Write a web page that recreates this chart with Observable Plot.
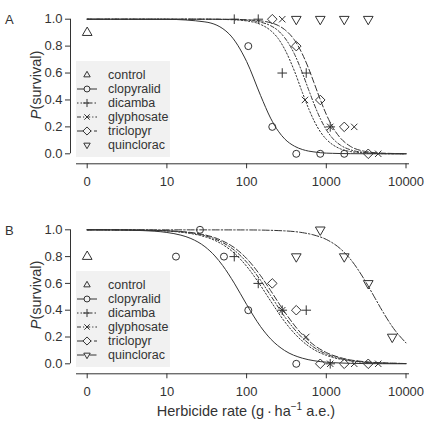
<!DOCTYPE html>
<html><head><meta charset="utf-8">
<script src="https://cdn.jsdelivr.net/npm/d3@7"></script>
<script src="https://cdn.jsdelivr.net/npm/@observablehq/plot@0.6"></script>
<style>
body{margin:0;background:#fff;}
#wrap{width:425px;height:422px;position:relative;overflow:hidden;}
svg{display:block;}
</style></head><body><div id="wrap"></div>
<script>
// ---------- categories & ticks ----------
const herbicides = ["control","clopyralid","dicamba","glyphosate","triclopyr","quinclorac"];
const xTicks = [1, 10, 100, 1000, 10000];
const xTickLabels = ["0", "10", "100", "1000", "10000"];
const yTicks = [0, 0.2, 0.4, 0.6, 0.8, 1.0];

// ---------- panel A observed survival ----------
const aCtrlRate = [0],                          aCtrlP = [0.9];
const aClopyRate = [105, 210, 420, 840, 1680],  aClopyP = [0.8, 0.2, 0, 0, 0];
const aDicRate = [70, 140, 280, 560, 1120],     aDicP = [1, 1, 0.6, 0.6, 0.2];
const aGlyRate = [280, 540, 1120, 2240, 4480],  aGlyP = [1, 0.4, 0.2, 0.2, 0];
const aTriRate = [210, 420, 840, 1680, 3360],   aTriP = [1, 0.8, 0.4, 0.2, 0];
const aQuinRate = [420, 840, 1680, 3360],       aQuinP = [1, 1, 1, 1];

// ---------- panel A fitted curves ----------
const gridA = [1, 10, 30, 60, 100, 150, 200, 250, 300, 400, 500, 600, 700, 850, 1000, 1200, 1500, 2000, 3000, 5000, 10000];
const aClopyFit = [1, 0.999, 0.98, 0.892, 0.686, 0.432, 0.265, 0.168, 0.111, 0.056, 0.032, 0.02, 0.014, 0.008, 0.005, 0.0034, 0.0019, 0.0009, 0.0003, 0.0001, 0];
const aDicFit   = [1, 1, 1, 0.997, 0.987, 0.961, 0.916, 0.855, 0.778, 0.612, 0.457, 0.336, 0.247, 0.16, 0.108, 0.068, 0.037, 0.017, 0.006, 0.001, 0];
const aGlyFit   = [1, 1, 1, 0.998, 0.993, 0.978, 0.952, 0.914, 0.863, 0.739, 0.602, 0.476, 0.372, 0.256, 0.179, 0.115, 0.065, 0.03, 0.01, 0.002, 0];
const aTriFit   = [1, 1, 1, 0.999, 0.996, 0.988, 0.974, 0.953, 0.923, 0.844, 0.742, 0.634, 0.529, 0.395, 0.293, 0.199, 0.118, 0.056, 0.019, 0.005, 0.001];

// ---------- panel B observed survival ----------
const bCtrlRate = [0],                          bCtrlP = [0.8];
const bClopyRate = [13, 26, 52, 105, 420],      bClopyP = [0.8, 1, 0.8, 0.4, 0];
const bDicRate = [70, 140, 280, 560, 1120],     bDicP = [0.8, 0.6, 0.4, 0.4, 0];
const bGlyRate = [280, 560, 1120, 2240, 4480],  bGlyP = [0.4, 0.2, 0, 0, 0];
const bTriRate = [210, 420, 840, 1680, 3360],   bTriP = [0.6, 0.4, 0, 0, 0];
const bQuinRate = [420, 840, 1680, 3360, 6720], bQuinP = [0.8, 1, 0.8, 0.6, 0.2];

// ---------- panel B fitted curves ----------
const gridB = [1, 3, 5, 10, 15, 20, 30, 40, 50, 70, 100, 150, 200, 300, 500, 700, 1000, 1500, 2000, 3000, 5000, 10000];
const bClopyFit = [1, 0.998, 0.994, 0.98, 0.96, 0.935, 0.874, 0.805, 0.734, 0.602, 0.443, 0.277, 0.186, 0.099, 0.042, 0.023, 0.012, 0.006, 0.0036, 0.0017, 0.0007, 0.0002];
const bDicFit   = [1, 0.999, 0.997, 0.991, 0.982, 0.972, 0.948, 0.921, 0.89, 0.826, 0.728, 0.583, 0.469, 0.315, 0.169, 0.106, 0.063, 0.034, 0.022, 0.011, 0.005, 0.002];
const bGlyFit   = [1, 0.999, 0.997, 0.992, 0.985, 0.976, 0.956, 0.932, 0.905, 0.848, 0.759, 0.622, 0.51, 0.352, 0.194, 0.123, 0.073, 0.04, 0.025, 0.013, 0.006, 0.002];
const bTriFit   = [1, 0.999, 0.998, 0.993, 0.987, 0.98, 0.962, 0.941, 0.917, 0.867, 0.786, 0.657, 0.547, 0.387, 0.218, 0.14, 0.084, 0.046, 0.029, 0.016, 0.007, 0.002];
const gridQ = [1, 100, 300, 500, 700, 1000, 1500, 2000, 3000, 4000, 5000, 7000, 10000];
const bQuinFit  = [1, 0.999, 0.992, 0.979, 0.961, 0.928, 0.859, 0.782, 0.629, 0.5, 0.399, 0.263, 0.156];

// ---------- styling ----------
const ink = "#333";
const font = '"Liberation Sans", Arial, Helvetica, sans-serif';
const symbolOf = {control:"triangle", clopyralid:"circle", dicamba:"plus", glyphosate:"times", triclopyr:"diamond2", quinclorac:"triangle"};
const d3SymbolOf = {control:d3.symbolTriangle2, clopyralid:d3.symbolCircle, dicamba:d3.symbolPlus, glyphosate:d3.symbolTimes, triclopyr:d3.symbolDiamond2, quinclorac:d3.symbolTriangle2};
const rotOf = {control:0, clopyralid:0, dicamba:0, glyphosate:0, triclopyr:0, quinclorac:180};
const rOf = {control:3.6, clopyralid:3.5, dicamba:3.2, glyphosate:3.0, triclopyr:4.3, quinclorac:3.6};
const dashOf = {clopyralid:null, dicamba:"1.5,2", glyphosate:"4,2,1.2,2", triclopyr:"6,2.5", quinclorac:"7,2,1.5,2"};

const pos = r => Math.max(r, 1); // rate 0 sits at the "0" tick

function zipPts(name, rates, ps) { return rates.map((r, i) => ({name, x: pos(r), p: ps[i]})); }
function zipFit(grid, ps) { return grid.map((x, i) => ({x, p: ps[i]})); }

function buildPanel(cfg) {
  const {h, top, bottom, pts, fits, letter, legendTop, legendLines, yTitleY, xTitle} = cfg;
  const y0 = h - bottom - 10;
  const marks = [
    Plot.ruleY([0], {dy: 10, stroke: ink, strokeWidth: 1}),
    Plot.ruleX([1], {y1: 0, y2: 1, dx: -16.7, stroke: ink, strokeWidth: 1}),
    Plot.axisY({ticks: yTicks, tickFormat: d => d.toFixed(1), tickSize: 5, tickPadding: 3, dx: -6, label: null, fontSize: 13}),
    Plot.axisX({ticks: xTicks, tickFormat: d => xTickLabels[xTicks.indexOf(d)], tickSize: 5, tickPadding: 8, label: null, fontSize: 13})
  ];
  for (const f of fits) {
    marks.push(Plot.line(zipFit(f.grid, f.p), {x: "x", y: "p", curve: "monotone-x", stroke: ink, strokeWidth: 1, strokeDasharray: dashOf[f.name] || undefined}));
  }
  for (const s of pts) {
    marks.push(Plot.dot(zipPts(s.name, s.rate, s.p), {x: "x", y: "p", symbol: symbolOf[s.name], r: rOf[s.name], rotate: rotOf[s.name], stroke: ink, fill: "none", strokeWidth: 1}));
  }
  const svg = Plot.plot({
    width: 425, height: h, marginLeft: 76, marginRight: 16, marginTop: top, marginBottom: bottom,
    style: {fontFamily: font, fontSize: "13px", color: ink, background: "#fff", overflow: "visible"},
    x: {type: "log", domain: [1, 10000], range: [86.7, 405.5]},
    y: {domain: [0, 1], range: [y0, top]},
    marks
  });
  const g = d3.select(svg).append("g").attr("font-family", font).attr("fill", ink).attr("text-anchor", "start");
  // panel letter
  g.append("text").attr("x", 5).attr("y", top + 1).attr("dy", "0.35em").attr("font-size", 13).text(letter);
  // y title
  const yt = g.append("text").attr("transform", `translate(36,${yTitleY}) rotate(-90)`).attr("text-anchor", "middle").attr("font-size", 14.5).attr("dy", "0.35em");
  yt.append("tspan").attr("font-style", "italic").text("P");
  yt.append("tspan").text("(survival)");
  // legend
  const lg = g.append("g");
  lg.append("rect").attr("x", 76).attr("y", legendTop).attr("width", 94).attr("height", 96).attr("fill", "#f1f1f1");
  herbicides.forEach((name, i) => {
    const cy = legendTop + 14 + i * 14;
    if (legendLines.includes(name)) {
      lg.append("line").attr("x1", 77).attr("x2", 97).attr("y1", cy).attr("y2", cy)
        .attr("stroke", ink).attr("stroke-width", 1).attr("stroke-dasharray", dashOf[name] || null);
    }
    const r = rOf[name] * 0.85;
    lg.append("path").attr("transform", `translate(87,${cy}) rotate(${rotOf[name]})`)
      .attr("d", d3.symbol(d3SymbolOf[name], r * r * Math.PI)())
      .attr("fill", "#f1f1f1").attr("stroke", ink).attr("stroke-width", 1);
    lg.append("text").attr("x", 108).attr("y", cy).attr("dy", "0.35em").attr("text-anchor", "start").attr("font-size", 12.5).text(name);
  });
  if (xTitle) {
    const xt = g.append("text").attr("x", 246).attr("y", h - 6).attr("text-anchor", "middle").attr("font-size", 14.5);
    xt.append("tspan").text("Herbicide rate (g\u2009\u00b7\u2009ha");
    xt.append("tspan").attr("dy", -6).attr("font-size", 10).text("\u22121");
    xt.append("tspan").attr("dy", 6).text(" a.e.)");
  }
  return svg;
}

const wrap = document.getElementById("wrap");
wrap.appendChild(buildPanel({
  h: 200, top: 18.7, bottom: 36.7, letter: "A", legendTop: 61, yTitleY: 85,
  legendLines: ["clopyralid", "dicamba", "glyphosate", "triclopyr"],
  fits: [
    {name: "clopyralid", grid: gridA, p: aClopyFit},
    {name: "dicamba", grid: gridA, p: aDicFit},
    {name: "glyphosate", grid: gridA, p: aGlyFit},
    {name: "triclopyr", grid: gridA, p: aTriFit}
  ],
  pts: [
    {name: "control", rate: aCtrlRate, p: aCtrlP},
    {name: "clopyralid", rate: aClopyRate, p: aClopyP},
    {name: "dicamba", rate: aDicRate, p: aDicP},
    {name: "glyphosate", rate: aGlyRate, p: aGlyP},
    {name: "triclopyr", rate: aTriRate, p: aTriP},
    {name: "quinclorac", rate: aQuinRate, p: aQuinP}
  ]
}));
wrap.appendChild(buildPanel({
  h: 222, top: 29.3, bottom: 48.7, letter: "B", legendTop: 71, yTitleY: 95, xTitle: true,
  legendLines: ["clopyralid", "dicamba", "glyphosate", "triclopyr", "quinclorac"],
  fits: [
    {name: "clopyralid", grid: gridB, p: bClopyFit},
    {name: "dicamba", grid: gridB, p: bDicFit},
    {name: "glyphosate", grid: gridB, p: bGlyFit},
    {name: "triclopyr", grid: gridB, p: bTriFit},
    {name: "quinclorac", grid: gridQ, p: bQuinFit}
  ],
  pts: [
    {name: "control", rate: bCtrlRate, p: bCtrlP},
    {name: "clopyralid", rate: bClopyRate, p: bClopyP},
    {name: "dicamba", rate: bDicRate, p: bDicP},
    {name: "glyphosate", rate: bGlyRate, p: bGlyP},
    {name: "triclopyr", rate: bTriRate, p: bTriP},
    {name: "quinclorac", rate: bQuinRate, p: bQuinP}
  ]
}));
</script></body></html>
